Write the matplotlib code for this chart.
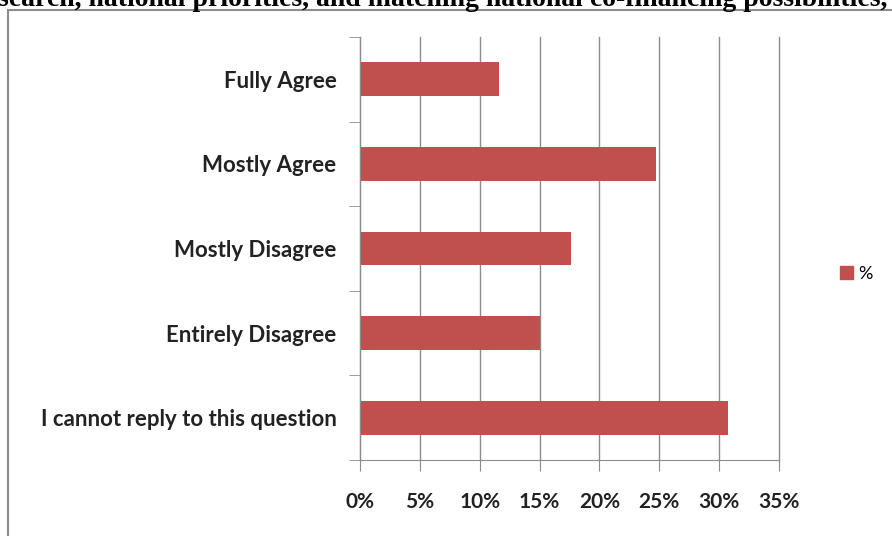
import matplotlib.pyplot as plt
from matplotlib.patches import Rectangle, Patch

categories = ['I cannot reply to this question', 'Entirely Disagree', 'Mostly Disagree',
              'Mostly Agree', 'Fully Agree']
values = [30.7, 15.0, 17.6, 24.7, 11.6]
xticks = [0, 5, 10, 15, 20, 25, 30, 35]
title = 'search, national priorities, and matching national co-financing possibilities,'

W, H = 892, 536
fig = plt.figure(figsize=(W / 100, H / 100), dpi=100)

# outer chart frame (right/bottom edges fall outside the picture)
fig.patches.append(Rectangle((8 / W, -0.1), 1.2, 1 - 10 / H + 0.1, transform=fig.transFigure,
                             fill=False, edgecolor='#8c8c8c', linewidth=1.5))

# clipped heading from the page above
fig.text(-2 / W, 1 - 6 / H, title, fontsize=20, fontweight='bold', family='Liberation Serif',
         va='baseline', ha='left')

ax = fig.add_axes([360 / W, 1 - 460 / H, 419 / W, 423 / H])
ypos = list(range(len(categories)))
ax.barh(ypos, values, height=0.4, color='#C0504D')

ax.set_xlim(0, 35)
ax.set_ylim(-0.5, len(categories) - 0.5)
ax.set_xticks(xticks)
ax.set_xticklabels([f'{t}%' for t in xticks])
ax.set_yticks(ypos)
ax.set_yticklabels(categories)
ax.set_yticks([y - 0.5 for y in range(len(categories) + 1)], minor=True)

ax.grid(axis='x', color='#8c8c8c', linewidth=1)
for gl in ax.get_xgridlines():
    gl.set_clip_on(False)
ax.set_axisbelow(True)
for s in ['top', 'right']:
    ax.spines[s].set_visible(False)
for s in ['left', 'bottom']:
    ax.spines[s].set_color('#8c8c8c')

ax.tick_params(axis='y', which='major', length=0, pad=17)
ax.tick_params(axis='y', which='minor', length=8, color='#8c8c8c', direction='out')
ax.tick_params(axis='x', length=8, color='#8c8c8c', pad=15)
for lab in ax.get_yticklabels():
    lab.set_fontfamily(['Lato', 'DejaVu Sans'])
    lab.set_fontsize(16)
    lab.set_fontweight('bold')
    lab.set_color('#222222')
for lab in ax.get_xticklabels():
    lab.set_fontfamily(['Lato', 'DejaVu Sans'])
    lab.set_fontsize(15)
    lab.set_fontweight('bold')
    lab.set_color('#222222')

fig.legend(handles=[Patch(color='#C0504D', label='%')], loc='center left',
           bbox_to_anchor=(824 / W, 1 - 274 / H), frameon=False,
           handlelength=0.7, handleheight=0.7, handletextpad=0.3,
           prop={'family': 'Lato', 'size': 13})

fig.savefig('out.png', dpi=100)
